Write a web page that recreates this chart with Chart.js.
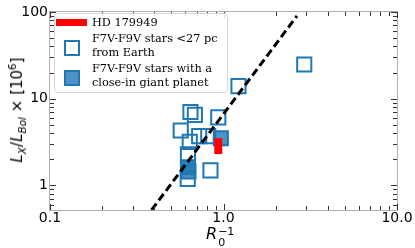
<!DOCTYPE html>
<html>
<head>
<meta charset="utf-8">
<script src="https://cdn.jsdelivr.net/npm/chart.js@4.4.1/dist/chart.umd.min.js"></script>
<style>
    body { margin: 0; background: #fff; }
    #wrap { position: relative; width: 415px; height: 248px; overflow: hidden; }
    #chart { position: absolute; left: 0; top: 0; }
    .legend {
        position: absolute; left: 54px; top: 13px; width: 172px; height: 78px;
        border: 1px solid #d6d6d6; border-radius: 4px; background: rgba(255,255,255,0.85);
        font-family: "DejaVu Serif", serif; font-size: 11.3px; color: #000;
    }
    .legend .txt { position: absolute; left: 37px; line-height: 13.5px; white-space: nowrap; }
    .legend .bar { position: absolute; left: 1px; top: 5px; width: 31px; height: 7px; background: #ff0000; }
    .legend .sq { position: absolute; left: 9px; width: 12px; height: 12px; border: 2px solid #1f77b4; }
    .legend .sq.fill { background: rgba(31,119,180,0.8); }
    .ytitle {
        position: absolute; left: 17px; top: 110px; transform: translate(-50%, -50%) rotate(-90deg);
        font-family: "DejaVu Sans", sans-serif; font-size: 15px; white-space: nowrap; line-height: 18px;
    }
    .ytitle sub, .ytitle sup { font-size: 10.5px; line-height: 0; }
    .xtitle {
        position: absolute; left: 206px; top: 224px;
        font-family: "DejaVu Sans", sans-serif; font-size: 16px; white-space: nowrap;
    }
    .xtitle .stack { display: inline-block; vertical-align: -7px; font-size: 11px; line-height: 11px; margin-left: 1px; }
    .xtitle .stack span { display: block; }
</style>
</head>
<body>
<div id="wrap">
    <canvas id="chart" width="415" height="248"></canvas>
    <div class="legend">
        <div class="bar"></div>
        <div class="txt" style="top:2px">HD 179949</div>
        <div class="sq" style="top:26px"></div>
        <div class="txt" style="top:18px">F7V-F9V stars &lt;27 pc<br>from Earth</div>
        <div class="sq fill" style="top:56px"></div>
        <div class="txt" style="top:48px">F7V-F9V stars with a<br>close-in giant planet</div>
    </div>
    <div class="ytitle"><i>L</i><sub><i>X</i></sub>/<i>L</i><sub><i>Bol</i></sub> × [10<sup>6</sup>]</div>
    <div class="xtitle"><i>R</i><span class="stack"><span>−1</span><span>0</span></span></div>
</div>
<script>
// open squares: nearby F7V-F9V stars
const openX = [0.645, 0.684, 0.933, 0.567, 0.724, 0.817, 0.639, 0.624, 0.622, 0.841, 2.92, 1.22];
const openY = [7.03, 6.51, 6.09, 4.30, 3.70, 3.70, 3.18, 2.28, 1.19, 1.49, 24.8, 13.97];

// filled squares: stars hosting a close-in giant planet
const hostX = [0.965, 0.624, 0.628];
const hostY = [3.50, 1.62, 1.45];

// HD 179949 range
const hdX = [0.933, 0.933];
const hdY = [2.30, 3.50];

// dashed relation
const fitX = [0.385, 2.65];
const fitY = [0.52, 90];

const xTicks = [0.1, 1, 10];
const xTickLabels = ["0.1", "1.0", "10.0"];
const yTicks = [1, 10, 100];
const yTickLabels = ["1", "10", "100"];

function toPoints(xs, ys) {
    return xs.map((x, i) => ({ x: x, y: ys[i] }));
}

// matplotlib-like frame with inward ticks on all sides
const frameTicks = {
    id: "frameTicks",
    afterDraw(chart) {
        const ctx = chart.ctx;
        const a = chart.chartArea;
        const xs = chart.scales.x;
        const ys = chart.scales.y;

        ctx.save();
        ctx.strokeStyle = "#b0b0b0";
        ctx.lineWidth = 1;
        ctx.strokeRect(a.left - 0.5, a.top - 0.5, a.right - a.left + 1, a.bottom - a.top + 1);

        ctx.strokeStyle = "#333";
        const tick = (x1, y1, x2, y2) => {
            ctx.beginPath();
            ctx.moveTo(x1, y1);
            ctx.lineTo(x2, y2);
            ctx.stroke();
        };

        for (let d = -1; d <= 2; d++) {
            for (let m = 1; m <= 9; m++) {
                const v = m * Math.pow(10, d);
                const len = m === 1 ? 6 : 4;
                if (v >= xs.min && v <= xs.max) {
                    const px = Math.round(xs.getPixelForValue(v)) + 0.5;
                    tick(px, a.bottom, px, a.bottom - len);
                    tick(px, a.top, px, a.top + len);
                }
                if (v >= ys.min && v <= ys.max) {
                    const py = Math.round(ys.getPixelForValue(v)) + 0.5;
                    tick(a.left, py, a.left + len, py);
                    tick(a.right, py, a.right - len, py);
                }
            }
        }
        ctx.restore();
    }
};

new Chart(document.getElementById("chart"), {
    type: "scatter",
    data: {
        datasets: [
            {
                label: "HD 179949",
                data: toPoints(hdX, hdY),
                showLine: true,
                borderColor: "#ff0000",
                borderWidth: 8,
                borderCapStyle: "butt",
                pointRadius: 0
            },
            {
                label: "fit",
                data: toPoints(fitX, fitY),
                showLine: true,
                borderColor: "#000",
                borderWidth: 3,
                borderDash: [8, 4],
                pointRadius: 0
            },
            {
                label: "F7V-F9V stars with a close-in giant planet",
                data: toPoints(hostX, hostY),
                pointStyle: "rect",
                pointRadius: 10,
                pointBorderWidth: 2,
                pointBorderColor: "#1f77b4",
                pointBackgroundColor: "rgba(31,119,180,0.8)"
            },
            {
                label: "F7V-F9V stars <27 pc from Earth",
                data: toPoints(openX, openY),
                pointStyle: "rect",
                pointRadius: 10,
                pointBorderWidth: 2,
                pointBorderColor: "#1f77b4",
                pointBackgroundColor: "rgba(0,0,0,0)"
            }
        ]
    },
    options: {
        responsive: false,
        animation: false,
        devicePixelRatio: 1,
        layout: { padding: { top: 6, right: 18, left: 0, bottom: 0 } },
        plugins: {
            legend: { display: false },
            tooltip: { enabled: false }
        },
        scales: {
            x: {
                type: "logarithmic",
                min: 0.1,
                max: 10,
                grid: { display: false, drawTicks: false },
                border: { display: false },
                afterBuildTicks: (scale) => {
                    scale.ticks = xTicks.map(v => ({ value: v }));
                },
                afterFit: (scale) => {
                    scale.height = 38;
                    scale.paddingLeft = 0;
                    scale.paddingRight = 0;
                },
                ticks: {
                    autoSkip: false,
                    maxRotation: 0,
                    padding: 0,
                    color: "#000",
                    font: { family: "DejaVu Sans", size: 14 },
                    callback: (v, i) => xTickLabels[i]
                }
            },
            y: {
                type: "logarithmic",
                min: 0.52,
                max: 100,
                grid: { display: false, drawTicks: false },
                border: { display: false },
                afterBuildTicks: (scale) => {
                    scale.ticks = yTicks.map(v => ({ value: v }));
                },
                afterFit: (scale) => {
                    scale.width = 50;
                    scale.paddingTop = 0;
                    scale.paddingBottom = 0;
                },
                ticks: {
                    autoSkip: false,
                    padding: 2,
                    color: "#000",
                    font: { family: "DejaVu Sans", size: 14 },
                    callback: (v, i) => yTickLabels[i]
                }
            }
        }
    },
    plugins: [frameTicks]
});
</script>
</body>
</html>
